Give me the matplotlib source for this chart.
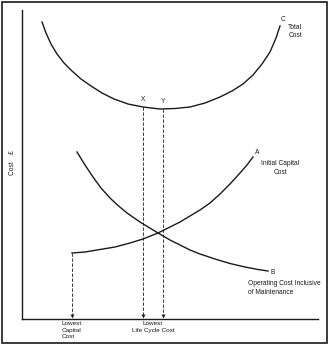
import matplotlib.pyplot as plt
from matplotlib.patches import Rectangle

plt.rcParams['font.family'] = ['Liberation Sans', 'DejaVu Sans']

# Curve C: total cost (arbitrary cost units)
total_x = [20, 24, 29, 35, 42, 50, 59, 69, 80, 92, 106, 121, 138,
           153, 168, 183, 198, 210, 221, 231, 240, 248, 254, 258]
total_y = [297, 286, 275, 265, 256, 248, 240, 233, 226, 220, 215, 212, 210,
           210.5, 212, 216, 222, 228, 235, 244, 255, 267, 281, 293]

# Curve A: initial capital cost
capital_x = [50, 63, 78, 93, 108, 121, 136, 148, 158, 168, 178, 188, 198, 208, 218, 225, 231]
capital_y = [66, 67, 69.5, 72, 76, 80, 86, 92, 97, 103, 109, 116, 125, 135, 146, 154, 162]

# Curve B: operating cost inclusive of maintenance
operating_x = [55, 63, 71, 79, 88, 96, 105, 118, 136, 148, 158, 168, 178, 193, 208, 223, 236, 246]
operating_y = [167, 154, 142, 131, 121, 113.5, 106, 97, 86, 79, 74, 69, 65, 60, 55.5, 52, 49.5, 48]

# points X and Y (lowest life cycle cost) and lowest capital cost point
xy_labels = ["X", "Y"]
xy_x = [121, 141]
xy_y = [212, 210]
low_cap_x = 50
low_cap_y = 66

ink = "#1a1a1a"
fs = 4.8

fig = plt.figure(figsize=(3.3, 3.45), dpi=100)
ax = fig.add_axes([22 / 330, 26 / 345, 296 / 330, 309 / 345])
ax.set_xlim(0, 296)
ax.set_ylim(0, 309)
for s in ["top", "right"]:
    ax.spines[s].set_visible(False)
for s in ["left", "bottom"]:
    ax.spines[s].set_linewidth(1.0)
    ax.spines[s].set_color(ink)
ax.set_xticks([])
ax.set_yticks([])
ax.patch.set_alpha(0)

for cx, cy in [(total_x, total_y), (capital_x, capital_y), (operating_x, operating_y)]:
    ax.plot(cx, cy, color=ink, lw=1.0, solid_joinstyle="round")

# dashed drop lines with arrow heads
drops = [(low_cap_x, low_cap_y)] + list(zip(xy_x, xy_y))
for dx, dy in drops:
    ax.plot([dx, dx], [dy, 2], color=ink, lw=0.6, ls=(0, (4, 2)))
    ax.plot([dx], [3], marker="v", ms=2.8, color=ink, mew=0)

for lab, lx, ly in zip(xy_labels, xy_x, xy_y):
    ax.text(lx, ly + 4, lab, fontsize=fs, ha="center", va="bottom", color=ink)

ax.text(261, 299, "C", fontsize=fs, ha="center", va="center", color=ink)
ax.text(273, 287, "Total\nCost", fontsize=fs, ha="center", va="center",
        color=ink, linespacing=1.2)
ax.text(235, 166, "A", fontsize=fs, ha="center", va="center", color=ink)
ax.text(258, 151, "Initial Capital\nCost", fontsize=fs, ha="center", va="center",
        color=ink, linespacing=1.5)
ax.text(251, 47, "B", fontsize=fs, ha="center", va="center", color=ink)
ax.text(226, 31, "Operating Cost Inclusive\nof Maintenance", fontsize=fs,
        ha="left", va="center", color=ink, linespacing=1.5)

ax.text(40, -2, "Lowest\nCapital\nCost", fontsize=4.6, ha="left", va="top",
        color=ink, linespacing=1.4, clip_on=False)
ax.text(131, -2, "Lowest\nLife Cycle Cost", fontsize=4.6, ha="center", va="top",
        color=ink, linespacing=1.4, clip_on=False)
ax.text(-10, 156, "Cost    £", fontsize=fs, rotation=90, ha="center",
        va="center", color=ink, clip_on=False)

# outer frame
fig.patches.append(Rectangle((2 / 330, 2 / 345), 325 / 330, 341 / 345,
                             transform=fig.transFigure, fill=False,
                             edgecolor=ink, lw=1.2))

fig.savefig("out.png", dpi=100)
